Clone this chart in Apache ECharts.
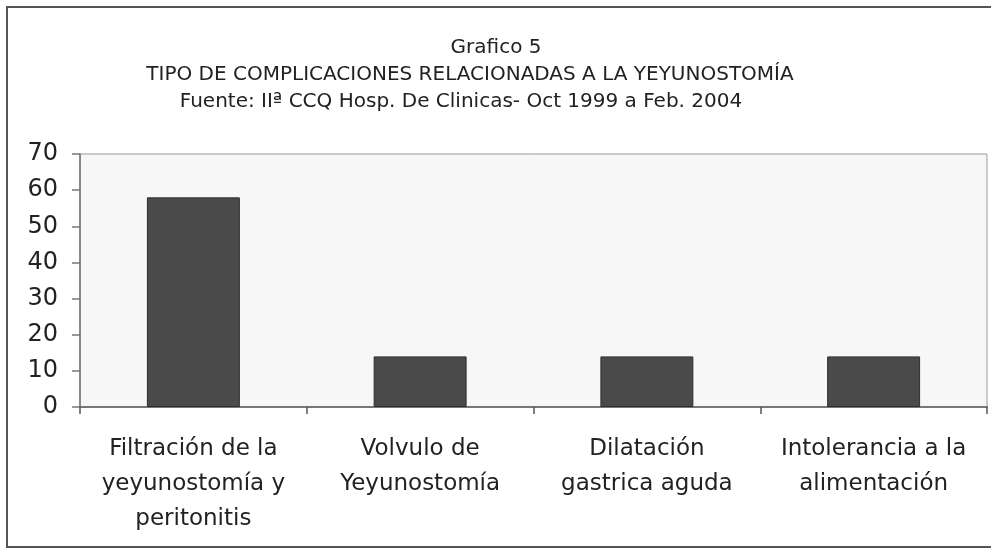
<!DOCTYPE html>
<html><head><meta charset="utf-8">
<script src="https://cdn.jsdelivr.net/npm/echarts@6/dist/echarts.min.js"></script>
<style>html,body{margin:0;padding:0;background:#fff}#c{width:991px;height:550px}</style>
</head><body><div id="c"></div>
<script>
const titleLines = ["Grafico 5", "TIPO DE COMPLICACIONES RELACIONADAS A LA YEYUNOSTOMÍA", "Fuente: IIª CCQ Hosp. De Clinicas- Oct 1999 a Feb. 2004"];
const categories = ["Filtración de la\nyeyunostomía y\nperitonitis", "Volvulo de\nYeyunostomía", "Dilatación\ngastrica aguda", "Intolerancia a la\nalimentación"];
const values = [58, 14, 14, 14];
const yMin = 0, yMax = 70, yStep = 10;

const chart = echarts.init(document.getElementById('c'), null, {renderer: 'canvas'});
const titleFont = {fontFamily: 'DejaVu Sans', fontSize: 20, color: '#222', fontWeight: 'normal'};
chart.setOption({
  animation: false,
  backgroundColor: '#fff',
  title: [
    {text: titleLines[0], left: 491, top: 33, textAlign: 'center', textStyle: titleFont},
    {text: titleLines[1], left: 465, top: 60, textAlign: 'center', textStyle: titleFont},
    {text: titleLines[2], left: 456, top: 87, textAlign: 'center', textStyle: titleFont}
  ],
  graphic: [{
    type: 'rect', z: -1, silent: true,
    shape: {x: 7, y: 7, width: 1010, height: 540},
    style: {fill: 'none', stroke: '#555', lineWidth: 2}
  }],
  grid: {left: 80, right: 4, top: 154, bottom: 143, show: true, backgroundColor: '#f7f7f7', borderColor: '#999', borderWidth: 1},
  xAxis: {
    type: 'category', data: categories,
    axisLine: {lineStyle: {color: '#777', width: 2}},
    axisTick: {show: true, length: 7, lineStyle: {color: '#555', width: 1.5}},
    axisLabel: {fontFamily: 'DejaVu Sans', fontSize: 23, color: '#222', lineHeight: 35, margin: 25, interval: 0}
  },
  yAxis: {
    type: 'value', min: yMin, max: yMax, interval: yStep,
    axisLine: {show: true, lineStyle: {color: '#888', width: 2}},
    axisTick: {show: true, length: 8, lineStyle: {color: '#777', width: 1.5}},
    splitLine: {show: false},
    axisLabel: {fontFamily: 'DejaVu Sans', fontSize: 24, color: '#222', margin: 22}
  },
  series: [{
    type: 'bar', data: values, barWidth: '41%',
    itemStyle: {color: '#4a4a4a', borderColor: '#2e2e2e', borderWidth: 1}
  }]
});
</script></body></html>
